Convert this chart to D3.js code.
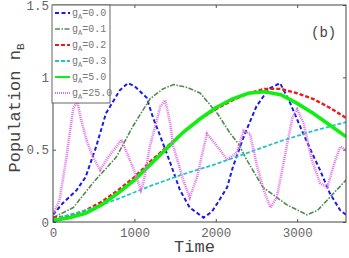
<!DOCTYPE html>
<html>
<head>
<meta charset="utf-8">
<script src="https://cdn.jsdelivr.net/npm/d3@7"></script>
<style>
  body { margin: 0; background: #fff; }
  svg { display: block; }
  .tick text { font-family: "Liberation Mono", monospace; font-size: 12.5px; fill: #666; }
  .tick line { stroke: #555; }
</style>
</head>
<body>
<script>
// g_A = 0.0 (blue dashed)
var g00 = [[0,0.05],[120,0.13],[290,0.22],[400,0.31],[530,0.52],[650,0.75],[820,0.91],[920,0.96],[1000,0.94],[1150,0.86],[1230,0.72],[1320,0.59],[1440,0.41],[1560,0.22],[1680,0.1],[1850,0.03],[1950,0.07],[2020,0.13],[2140,0.24],[2210,0.38],[2350,0.6],[2500,0.8],[2650,0.92],[2790,0.96],[2900,0.84],[3060,0.63],[3180,0.48],[3280,0.36],[3400,0.2],[3530,0.08],[3600,0.05]];
// g_A = 0.1 (green dash-dot)
var g01 = [[0,0.03],[250,0.1],[490,0.27],[780,0.45],[980,0.66],[1190,0.85],[1350,0.92],[1480,0.95],[1650,0.93],[1810,0.89],[2020,0.75],[2180,0.61],[2280,0.54],[2380,0.43],[2580,0.24],[2870,0.12],[3120,0.05],[3250,0.08],[3400,0.17],[3600,0.29]];
// g_A = 0.2 (red dashed)
var g02 = [[0,0.03],[200,0.04],[400,0.08],[600,0.14],[800,0.22],[1000,0.31],[1200,0.42],[1400,0.52],[1600,0.62],[1800,0.71],[2000,0.78],[2200,0.84],[2400,0.89],[2600,0.92],[2800,0.92],[3000,0.89],[3200,0.85],[3400,0.79],[3600,0.72]];
// g_A = 0.3 (cyan dashed)
var g03 = [[0,0.02],[400,0.08],[800,0.16],[1200,0.25],[1600,0.33],[2000,0.4],[2400,0.48],[2800,0.56],[3200,0.63],[3600,0.69]];
// g_A = 5.0 (green solid)
var g50 = [[0,0.01],[200,0.03],[400,0.06],[600,0.12],[800,0.2],[1000,0.29],[1200,0.4],[1400,0.51],[1600,0.62],[1800,0.71],[2000,0.79],[2200,0.85],[2400,0.89],[2600,0.9],[2800,0.88],[3000,0.82],[3200,0.75],[3400,0.67],[3600,0.59]];
// g_A = 25.0 (magenta dotted)
var g250 = [[0,0.05],[80,0.15],[160,0.43],[250,0.79],[300,0.83],[340,0.72],[410,0.57],[490,0.45],[580,0.36],[680,0.45],[780,0.52],[840,0.57],[980,0.38],[1080,0.22],[1110,0.27],[1190,0.52],[1320,0.8],[1380,0.84],[1440,0.68],[1480,0.52],[1600,0.29],[1680,0.17],[1770,0.31],[1890,0.61],[1950,0.57],[2050,0.5],[2140,0.43],[2260,0.48],[2340,0.63],[2420,0.61],[2510,0.38],[2590,0.22],[2670,0.1],[2750,0.17],[2830,0.4],[2940,0.72],[3000,0.78],[3080,0.68],[3180,0.43],[3280,0.27],[3370,0.24],[3470,0.43],[3530,0.52],[3600,0.5]];

var legendLabels = ["0.0", "0.1", "0.2", "0.3", "5.0", "25.0"];
var xTicks = [0, 1000, 2000, 3000];
var yTicks = [0, 0.5, 1, 1.5];

var series = [
  { data: g00, color: "#1a1aee", width: 2, dash: "4,2.5" },
  { data: g01, color: "#4e8e4e", width: 1.6, dash: "5,1.5,1.5,1.5" },
  { data: g02, color: "#f01818", width: 2.4, dash: "4,2" },
  { data: g03, color: "#22c4c8", width: 1.8, dash: "4,2" },
  { data: g50, color: "#10f010", width: 3.6, dash: null },
  { data: g250, color: "#e070e8", width: 2.6, dash: "1,1" }
];

var margin = { top: 5, left: 53, right: 3, bottom: 36 },
    width = 349 - margin.left - margin.right,
    height = 258 - margin.top - margin.bottom;

var svg = d3.select("body").append("svg")
    .attr("width", 349)
    .attr("height", 258);

var g = svg.append("g")
    .attr("transform", "translate(" + margin.left + "," + margin.top + ")");

var x = d3.scaleLinear().domain([0, 3600]).range([0, width]);
var y = d3.scaleLinear().domain([0, 1.5]).range([height, 0]);

g.append("defs").append("clipPath").attr("id", "clip")
  .append("rect").attr("width", width).attr("height", height);

var line = d3.line()
    .x(function(d) { return x(d[0]); })
    .y(function(d) { return y(d[1]); });

var plot = g.append("g").attr("clip-path", "url(#clip)");
// draw back to front so magenta sits on top like the original
series.forEach(function(s) {
  plot.append("path")
    .datum(s.data)
    .attr("d", line)
    .style("fill", "none")
    .style("stroke", s.color)
    .style("stroke-width", s.width)
    .style("stroke-dasharray", s.dash);
});

// axes, ticks pointing inward
g.append("g")
  .attr("transform", "translate(0," + height + ")")
  .call(d3.axisBottom(x).tickValues(xTicks).tickFormat(d3.format("d")).tickSizeInner(-3).tickSizeOuter(0).tickPadding(6));
g.append("g")
  .call(d3.axisLeft(y).tickValues(yTicks).tickFormat(d3.format("")).tickSizeInner(-3).tickSizeOuter(0).tickPadding(4));
g.append("g")
  .call(d3.axisTop(x).tickValues(xTicks).tickSizeInner(-3).tickSizeOuter(0).tickFormat(""));
g.append("g")
  .attr("transform", "translate(" + width + ",0)")
  .call(d3.axisRight(y).tickValues(yTicks).tickSizeInner(-3).tickSizeOuter(0).tickFormat(""));
g.selectAll(".domain").remove();

g.append("rect")
  .attr("width", width).attr("height", height)
  .style("fill", "none").style("stroke", "#444").style("stroke-width", 1);

// legend
var leg = g.append("g").attr("transform", "translate(-1,0)");
leg.append("rect")
  .attr("width", 58).attr("height", 98)
  .style("fill", "#fff").style("stroke", "#666").style("stroke-width", 1);
series.forEach(function(s, i) {
  var ly = 8 + i * 16;
  leg.append("line")
    .attr("x1", 3).attr("x2", 18).attr("y1", ly).attr("y2", ly)
    .style("stroke", s.color)
    .style("stroke-width", Math.min(s.width, 2))
    .style("stroke-dasharray", s.dash);
  var t = leg.append("text")
    .attr("x", 20).attr("y", ly + 3)
    .style("font-family", "Liberation Mono, monospace")
    .style("font-size", "10px")
    .style("fill", "#777");
  t.append("tspan").text("g");
  t.append("tspan").attr("dy", 3).style("font-size", "7px").text("A");
  t.append("tspan").attr("dy", -3).text("=" + legendLabels[i]);
});

g.append("text")
  .attr("x", 258).attr("y", 32)
  .style("font-family", "Liberation Mono, monospace")
  .style("font-size", "14px")
  .style("fill", "#444")
  .text("(b)");

// axis titles
svg.append("text")
  .attr("x", margin.left + width / 2 - 5).attr("y", 252)
  .attr("text-anchor", "middle")
  .style("font-family", "Liberation Mono, monospace")
  .style("font-size", "17px")
  .style("fill", "#444")
  .text("Time");

var yl = svg.append("text")
  .attr("transform", "translate(20," + 108 + ") rotate(-90)")
  .attr("text-anchor", "middle")
  .style("font-family", "Liberation Mono, monospace")
  .style("font-size", "17px")
  .style("fill", "#444");
yl.append("tspan").text("Population n");
yl.append("tspan").attr("dy", 4).style("font-size", "11px").text("B");
</script>
</body>
</html>
